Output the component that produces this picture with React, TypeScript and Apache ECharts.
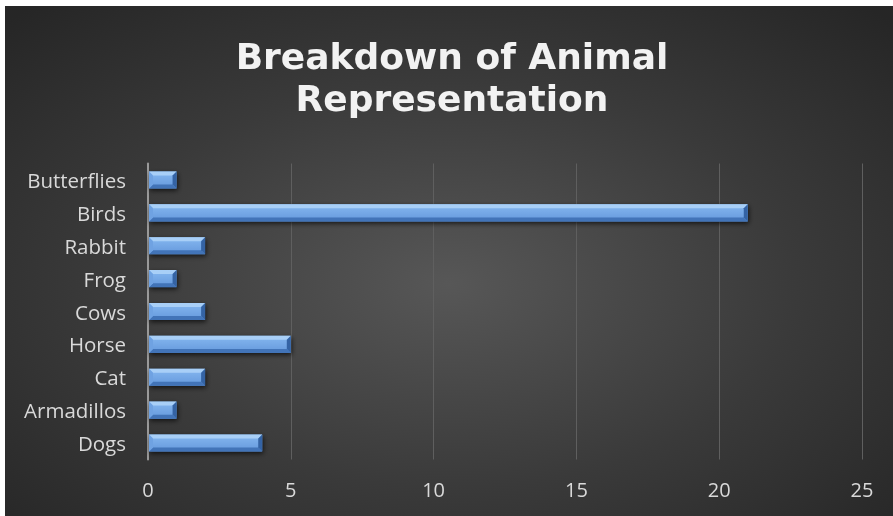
import React, { useEffect, useRef } from "react";
import * as echarts from "echarts";

const categories = ["Dogs", "Armadillos", "Cat", "Horse", "Cows", "Frog", "Rabbit", "Birds", "Butterflies"];
const values = [4, 1, 2, 5, 2, 1, 2, 21, 1];
const xTicks = { min: 0, max: 25, interval: 5 };
const titleText = "Breakdown of Animal\nRepresentation";

export default function App() {
  const ref = useRef<HTMLDivElement>(null);
  useEffect(() => {
    if (!ref.current) return;
    const chart = echarts.init(ref.current, undefined, { renderer: "svg" });
    const renderItem = (params: any, api: any) => {
      const cat = api.value(1);
      const p0 = api.coord([0, cat]);
      const p1 = api.coord([api.value(0), cat]);
      const band = api.size([0, 1])[1];
      const h = band * 0.52;
      const l = p0[0] + 1;
      const r = p1[0];
      const t = p0[1] - h / 2;
      const bo = p0[1] + h / 2;
      const b = Math.min(4, (r - l) / 2);
      return {
        type: "group",
        children: [
          {
            type: "rect",
            shape: { x: l, y: t, width: r - l, height: bo - t },
            style: {
              fill: "#1a1a1a",
              shadowBlur: 5,
              shadowColor: "rgba(0,0,0,0.7)",
              shadowOffsetX: 1,
              shadowOffsetY: 2,
            },
          },
          {
            type: "rect",
            shape: { x: l, y: t, width: r - l, height: bo - t },
            style: {
              fill: new echarts.graphic.LinearGradient(0, 0, 0, 1, [
                { offset: 0, color: "#86b8f0" },
                { offset: 1, color: "#6498dc" },
              ]),
            },
          },
          {
            type: "polygon",
            shape: { points: [[l, t], [r, t], [r - b, t + b], [l + b, t + b]] },
            style: { fill: "#a8cff7" },
          },
          {
            type: "polygon",
            shape: { points: [[l, bo], [r, bo], [r - b, bo - b], [l + b, bo - b]] },
            style: { fill: "#4274b8" },
          },
          {
            type: "polygon",
            shape: { points: [[r, t], [r, bo], [r - b, bo - b], [r - b, t + b]] },
            style: { fill: "#3463a4" },
          },
          {
            type: "polygon",
            shape: { points: [[l, t], [l, bo], [l + b, bo - b], [l + b, t + b]] },
            style: { fill: "#6fa2e2" },
          },
        ],
      };
    };
    chart.setOption({
      animation: false,
      backgroundColor: "transparent",
      title: {
        text: titleText,
        left: "center",
        top: 24,
        textStyle: {
          fontFamily: "DejaVu Sans",
          fontWeight: "bold",
          fontSize: 36,
          lineHeight: 42,
          color: "#f2f2f2",
        },
      },
      grid: { left: 143, top: 157.5, width: 714, height: 296, containLabel: false },
      xAxis: {
        type: "value",
        min: xTicks.min,
        max: xTicks.max,
        interval: xTicks.interval,
        axisLine: { show: false },
        axisTick: { show: false },
        splitLine: { lineStyle: { color: "#5f5f5f", width: 1 } },
        axisLabel: { color: "#d9d9d9", fontFamily: "Open Sans", fontSize: 20, margin: 20 },
      },
      yAxis: {
        type: "category",
        data: categories,
        axisLine: { show: true, lineStyle: { color: "#9a9a9a", width: 2 } },
        axisTick: { show: false },
        splitLine: { show: false },
        axisLabel: { color: "#d9d9d9", fontFamily: "Open Sans", fontSize: 20.5, margin: 22 },
      },
      series: [
        {
          type: "custom",
          renderItem,
          encode: { x: 0, y: 1 },
          data: values.map((v, i) => [v, i]),
        },
      ],
    });
    return () => chart.dispose();
  }, []);
  return (
    <div
      ref={ref}
      style={{
        position: "fixed",
        left: 5,
        top: 6,
        width: 894,
        height: 520,
        background: "radial-gradient(ellipse 630px 370px at 444px 278px, #575757 0%, #3a3a3a 55%, #262626 100%)",
      }}
    />
  );
}
